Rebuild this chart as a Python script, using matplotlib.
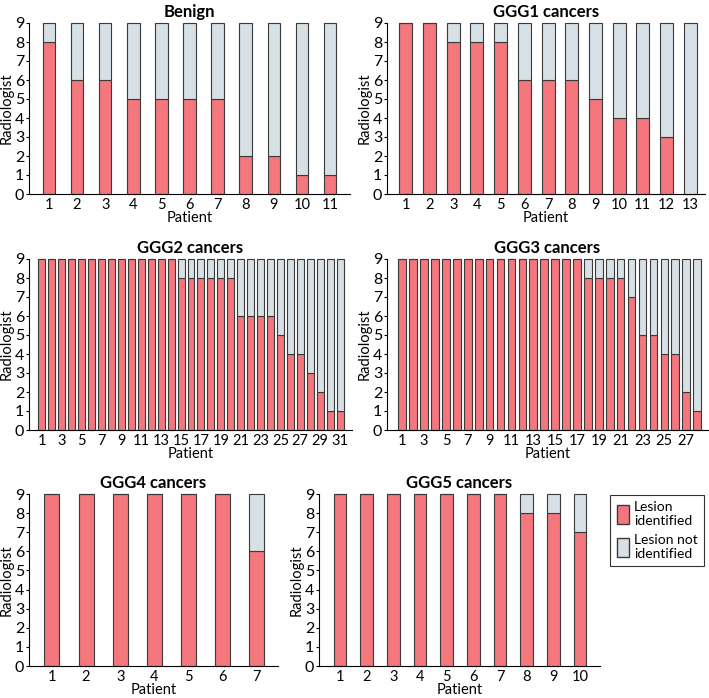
import matplotlib
matplotlib.use("Agg")
import matplotlib.pyplot as plt
import matplotlib.patches as mpatches
import numpy as np

plt.rcParams['font.family'] = ['Lato', 'DejaVu Sans']

# Numero de radiologos (de 9) que identificaron la lesion, por paciente
benign = [8, 6, 6, 5, 5, 5, 5, 2, 2, 1, 1]
ggg1 = [9, 9, 8, 8, 8, 6, 6, 6, 5, 4, 4, 3, 0]
ggg2 = [9] * 14 + [8] * 6 + [6] * 4 + [5, 4, 4, 3, 2, 1, 1]
ggg3 = [9] * 17 + [8] * 4 + [7, 5, 5, 4, 4, 2, 1]
ggg4 = [9, 9, 9, 9, 9, 9, 6]
ggg5 = [9, 9, 9, 9, 9, 9, 9, 8, 8, 7]
total = 9

titles = ["Benign", "GGG1 cancers", "GGG2 cancers", "GGG3 cancers",
          "GGG4 cancers", "GGG5 cancers"]
series = [benign, ggg1, ggg2, ggg3, ggg4, ggg5]

red = '#F4777D'
grey = '#D6E0E5'
edge = '#3a3a3a'

W, H = 709, 698
fig = plt.figure(figsize=(W / 100, H / 100), dpi=100)

# (izq, der, arriba, abajo) en pixeles, ancho de barra, xlim, paso de ticks
layout = [
    ((29, 350, 23, 194), 0.45, (0.29, 11.71), 1),
    ((387, 705, 23, 194), 0.55, (0.2, 13.63), 1),
    ((29, 352, 259, 430), 0.7, (-0.3, 32.2), 2),
    ((387, 708, 259, 430), 0.7, (-0.4, 29.0), 2),
    ((29, 278, 494, 666), 0.44, (0.33, 7.62), 1),
    ((319, 600, 494, 666), 0.47, (0.21, 10.75), 1),
]

for vals, title, (box, bw, xl, step) in zip(series, titles, layout):
    l, r, t, b = box
    ax = fig.add_axes([l / W, 1 - b / H, (r - l) / W, (b - t) / H])
    x = np.arange(1, len(vals) + 1)
    v = np.array(vals)
    ax.bar(x, v, width=bw, color=red, edgecolor=edge, linewidth=0.8, clip_on=False)
    ax.bar(x, total - v, bottom=v, width=bw, color=grey, edgecolor=edge,
           linewidth=0.8, clip_on=False)
    ax.set_xlim(*xl)
    ax.set_ylim(0, 9)
    ax.set_yticks(range(0, 10))
    ax.set_xticks(x[::step])
    ax.tick_params(axis='x', length=0, labelsize=10.5, pad=3)
    ax.tick_params(axis='y', length=2.5, labelsize=11.5, pad=1)
    ax.spines['top'].set_visible(False)
    ax.spines['right'].set_visible(False)
    ax.set_title(title, fontsize=12, fontweight='bold', pad=4)
    ax.set_xlabel("Patient", fontsize=10.5, labelpad=-1)
    ax.set_ylabel("Radiologist", fontsize=10.5, labelpad=1)

handles = [mpatches.Patch(facecolor=red, edgecolor=edge, label="Lesion\nidentified"),
           mpatches.Patch(facecolor=grey, edgecolor=edge, label="Lesion not\nidentified")]
leg = fig.legend(handles=handles, loc='upper right', bbox_to_anchor=(704 / W, 1 - 495 / H),
                 fontsize=10, frameon=True, fancybox=False, handlelength=0.9,
                 handleheight=1.7, handletextpad=0.35, borderpad=0.45, labelspacing=0.5,
                 borderaxespad=0)
leg.get_frame().set_edgecolor('black')
leg.get_frame().set_linewidth(0.8)

fig.savefig("out.png", dpi=100)
